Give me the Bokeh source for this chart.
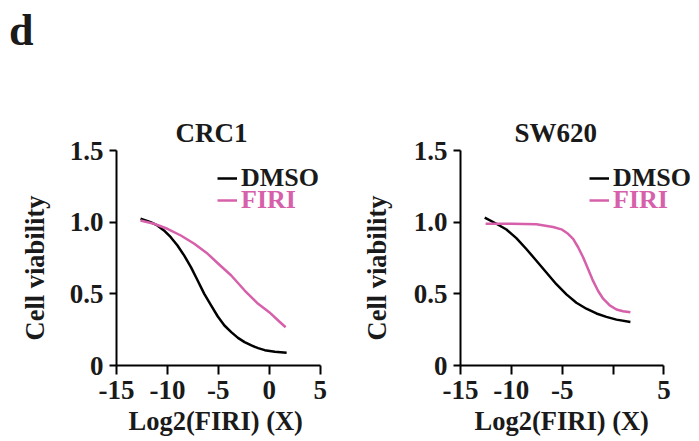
from bokeh.plotting import figure
from bokeh.models import (Legend, LegendItem, Title, FixedTicker, Div)
from bokeh.layouts import row, column
from bokeh.embed import file_html
from bokeh.resources import INLINE

# ---------------- data ----------------
crc1_dmso_x = [-12.64, -11.65, -10.99, -10.34, -9.67, -9.01, -8.36, -7.69, -7.03, -6.38, -5.71, -5.05,
               -4.40, -3.73, -3.07, -2.42, -1.75, -1.09, -0.44, 0.55, 1.71]
crc1_dmso_y = [1.024, 1.000, 0.977, 0.942, 0.895, 0.837, 0.768, 0.686, 0.593, 0.500, 0.419, 0.342,
               0.279, 0.233, 0.193, 0.163, 0.140, 0.121, 0.107, 0.096, 0.089]
crc1_firi_x = [-12.64, -11.32, -10.0, -8.68, -7.36, -6.04, -5.0, -3.73, -2.41, -1.09, 0.0, 0.88, 1.61]
crc1_firi_y = [1.012, 0.989, 0.954, 0.907, 0.849, 0.779, 0.710, 0.628, 0.523, 0.430, 0.372, 0.314, 0.267]

sw620_dmso_x = [-12.62, -11.47, -10.49, -9.51, -8.53, -7.54, -6.56, -5.58, -4.59, -3.61, -2.63, -1.64,
                -0.66, 0.33, 1.70]
sw620_dmso_y = [1.032, 0.989, 0.949, 0.889, 0.813, 0.731, 0.649, 0.567, 0.496, 0.438, 0.396, 0.363,
                0.339, 0.320, 0.304]
sw620_firi_x = [-12.53, -10.0, -7.54, -5.90, -5.08, -4.43, -3.93, -3.44, -2.95, -2.46, -1.97, -1.47,
                -0.98, -0.33, 0.33, 0.98, 1.70]
sw620_firi_y = [0.989, 0.989, 0.985, 0.966, 0.950, 0.919, 0.884, 0.825, 0.755, 0.673, 0.590, 0.520,
                0.466, 0.419, 0.391, 0.379, 0.372]

x_ticks = [-15, -10, -5, 0, 5]
x_tick_labels_crc1 = ["-15", "-10", "-5", "0", "5"]
x_tick_labels_sw620 = ["-15", "-10", "-5", "", "5"]
y_ticks = [0, 0.5, 1.0, 1.5]
y_tick_labels = ["0", "0.5", "1.0", "1.5"]

panel_titles = ["CRC1", "SW620"]
x_label = "Log2(FIRI) (X)"
y_label = "Cell viability"
series_names = ["DMSO", "FIRI"]
series_colors = ["#000000", "#D660AA"]

FONT = "Liberation Serif"
TICK_FS = "27px"
LABEL_FS = "26.5px"
TITLE_FS = "27px"
LEGEND_FS = "26px"
TEXT_COLOR = "#1a1a1a"


def txt(text, fs, **kw):
    return Title(text=text, text_font=FONT, text_font_style="bold", text_font_size=fs,
                 text_color=TEXT_COLOR, **kw)


def make_panel(title, dmso_x, dmso_y, firi_x, firi_y, x_tick_labels, width, left, right, x_end,
               title_offset, xlabel_offset, ylabel_standoff, legend_x):
    p = figure(width=width, height=380, x_range=(-15, x_end), y_range=(0, 1.5),
               min_border_left=left, min_border_right=right,
               min_border_top=90, min_border_bottom=75,
               toolbar_location=None, output_backend="svg")
    p.outline_line_color = None
    p.xgrid.visible = False
    p.ygrid.visible = False
    p.background_fill_color = None
    p.border_fill_color = None

    p.add_layout(txt(title, TITLE_FS, align="left", offset=title_offset, standoff=6), "above")

    for ax in (p.xaxis[0], p.yaxis[0]):
        ax.axis_line_width = 2
        ax.major_tick_line_width = 2
        ax.minor_tick_line_color = None
        ax.major_tick_in = 0
        ax.major_label_text_font = FONT
        ax.major_label_text_font_style = "bold"
        ax.major_label_text_font_size = TICK_FS
        ax.major_label_text_color = TEXT_COLOR

    xa = p.xaxis[0]
    xa.ticker = FixedTicker(ticks=x_ticks)
    xa.major_label_overrides = dict(zip(x_ticks, x_tick_labels))
    xa.bounds = (x_ticks[0], x_ticks[-1])
    xa.major_tick_out = 9
    xa.major_label_standoff = 6
    p.add_layout(txt(x_label, LABEL_FS, align="left", offset=xlabel_offset, standoff=5), "below")

    ya = p.yaxis[0]
    ya.ticker = FixedTicker(ticks=y_ticks)
    ya.major_label_overrides = dict(zip(y_ticks, y_tick_labels))
    ya.major_tick_out = 7
    ya.major_label_standoff = 6
    p.add_layout(txt(y_label, LABEL_FS, align="left", offset=25, standoff=ylabel_standoff), "left")

    r1 = p.line(dmso_x, dmso_y, line_color=series_colors[0], line_width=2.5, line_join="round")
    r2 = p.line(firi_x, firi_y, line_color=series_colors[1], line_width=2.5, line_join="round")

    for r, name, color, ly in ((r1, series_names[0], TEXT_COLOR, 172),
                               (r2, series_names[1], series_colors[1], 150)):
        leg = Legend(items=[LegendItem(label=name, renderers=[r])],
                     location=(legend_x, ly), padding=0, margin=0, spacing=0,
                     glyph_width=20, glyph_height=20, label_height=20,
                     label_standoff=4,
                     border_line_color=None, background_fill_alpha=0,
                     label_text_font=FONT, label_text_font_style="bold",
                     label_text_font_size=LEGEND_FS, label_text_color=color)
        p.add_layout(leg)
    return p


p1 = make_panel(panel_titles[0], crc1_dmso_x, crc1_dmso_y, crc1_firi_x, crc1_firi_y,
                x_tick_labels_crc1, width=340, left=116, right=0, x_end=7,
                title_offset=59, xlabel_offset=12, ylabel_standoff=33, legend_x=101)
p2 = make_panel(panel_titles[1], sw620_dmso_x, sw620_dmso_y, sw620_firi_x, sw620_firi_y,
                x_tick_labels_sw620, width=358, left=119, right=4, x_end=8,
                title_offset=54, xlabel_offset=14, ylabel_standoff=38, legend_x=129)

label = Div(text='<div style="margin:9px 0 0 9px">d</div>', width=698, height=60, margin=0,
            styles={"font-family": FONT, "font-weight": "bold", "font-size": "44px",
                    "line-height": "1", "color": TEXT_COLOR})

layout = column(label, row(p1, p2, spacing=0), spacing=0)

with open("out.html", "w") as f:
    f.write(file_html(layout, INLINE))
